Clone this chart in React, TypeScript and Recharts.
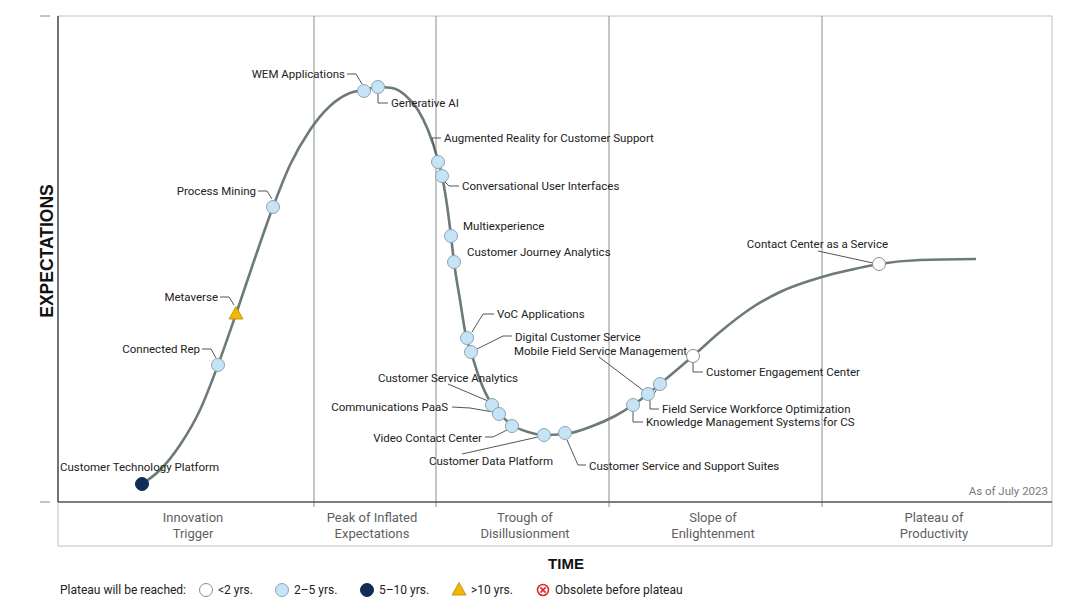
import React from 'react';
import {
  ComposedChart,
  Line,
  Scatter,
  XAxis,
  YAxis,
  ReferenceLine,
} from 'recharts';

// ---------- DATA ----------
// Hype curve (time vs expectations, arbitrary units)
const curveTime = [84, 102, 122, 142, 160, 178, 197, 215, 232, 252, 272, 292, 306, 320, 334, 347, 360, 370, 380, 384, 389, 393, 396, 402, 408, 413, 422, 433, 441, 454, 470, 486, 507, 532, 557, 575, 590, 602, 635, 662, 692, 722, 764, 792, 821, 862, 918];
const curveExpectation = [18, 32, 57, 92, 137, 188, 244, 295, 337, 372, 396, 409, 412, 415, 414, 407, 392, 372, 342, 326, 297, 266, 240, 202, 166, 150, 122, 99, 89, 77, 70, 67, 68, 75, 86, 97, 108, 118, 146, 170, 193, 210, 225, 232, 238, 242, 243];

const techNames = [
  'Customer Technology Platform',
  'Connected Rep',
  'Metaverse',
  'Process Mining',
  'WEM Applications',
  'Generative AI',
  'Augmented Reality for Customer Support',
  'Conversational User Interfaces',
  'Multiexperience',
  'Customer Journey Analytics',
  'VoC Applications',
  'Digital Customer Service',
  'Customer Service Analytics',
  'Communications PaaS',
  'Video Contact Center',
  'Customer Data Platform',
  'Customer Service and Support Suites',
  'Knowledge Management Systems for CS',
  'Mobile Field Service Management',
  'Field Service Workforce Optimization',
  'Customer Engagement Center',
  'Contact Center as a Service',
];
const techTime = [84, 160, 178, 215, 306, 320, 380, 384, 393, 396, 409, 413, 434, 441, 454, 486, 507, 575, 590, 602, 635, 821];
const techExpectation = [18, 137, 188, 295, 411, 415, 340, 326, 266, 240, 164, 150, 97, 88, 76, 67, 69, 97, 108, 118, 146, 238];
const techHorizon = ['5-10', '2-5', '>10', '2-5', '2-5', '2-5', '2-5', '2-5', '2-5', '2-5', '2-5', '2-5', '2-5', '2-5', '2-5', '2-5', '2-5', '2-5', '2-5', '2-5', '<2', '<2'];

const phaseNames = ['Innovation\nTrigger', 'Peak of Inflated\nExpectations', 'Trough of\nDisillusionment', 'Slope of\nEnlightenment', 'Plateau of\nProductivity'];
const phaseBounds = [0, 256, 378, 551, 764, 994];
const phaseLabelTime = [135, 314, 467, 655, 876];

const legendLabels = ['<2 yrs.', '2\u20135 yrs.', '5\u201310 yrs.', '>10 yrs.', 'Obsolete before plateau'];
const legendKeys = ['<2', '2-5', '5-10', '>10', 'obsolete'];

// ---------- LAYOUT (label placement relative to each marker, in px) ----------
type LabelLayout = { dx: number; dy: number; anchor: 'start' | 'middle' | 'end'; leader: number[][] };
const labelLayout: Record<string, LabelLayout> = {
  'Customer Technology Platform': { dx: -82, dy: -17, anchor: 'start', leader: [] },
  'Connected Rep': { dx: -18, dy: -16, anchor: 'end', leader: [[-16, -16], [-7, -16], [-2, -7]] },
  'Metaverse': { dx: -18, dy: -17, anchor: 'end', leader: [[-16, -17], [-7, -17], [-2, -9]] },
  'Process Mining': { dx: -17, dy: -16, anchor: 'end', leader: [[-15, -16], [-6, -16], [-1, -8]] },
  'WEM Applications': { dx: -19, dy: -17, anchor: 'end', leader: [[-17, -17], [-8, -17], [-2, -7]] },
  'Generative AI': { dx: 13, dy: 16, anchor: 'start', leader: [[0, 7], [0, 16], [10, 16]] },
  'Augmented Reality for Customer Support': { dx: 6, dy: -24, anchor: 'start', leader: [[3, -24], [-6, -24], [-2, -7]] },
  'Conversational User Interfaces': { dx: 20, dy: 10, anchor: 'start', leader: [[2, 5], [7, 10], [17, 10]] },
  'Multiexperience': { dx: 12, dy: -10, anchor: 'start', leader: [] },
  'Customer Journey Analytics': { dx: 13, dy: -10, anchor: 'start', leader: [] },
  'VoC Applications': { dx: 30, dy: -24, anchor: 'start', leader: [[5, -6], [16, -24], [27, -24]] },
  'Digital Customer Service': { dx: 44, dy: -15, anchor: 'start', leader: [[6, -3], [32, -16], [41, -16]] },
  'Customer Service Analytics': { dx: -44, dy: -27, anchor: 'middle', leader: [[-44, -21], [-4, -4]] },
  'Communications PaaS': { dx: -51, dy: -7, anchor: 'end', leader: [[-47, -7], [-29, -6], [-6, -2]] },
  'Video Contact Center': { dx: -30, dy: 12, anchor: 'end', leader: [[-27, 11], [-19, 11], [-5, 4]] },
  'Customer Data Platform': { dx: -53, dy: 26, anchor: 'middle', leader: [[-82, 19], [-6, 2]] },
  'Customer Service and Support Suites': { dx: 24, dy: 33, anchor: 'start', leader: [[2, 7], [13, 32], [21, 32]] },
  'Knowledge Management Systems for CS': { dx: 13, dy: 17, anchor: 'start', leader: [[0, 6], [0, 17], [10, 17]] },
  'Mobile Field Service Management': { dx: -134, dy: -43, anchor: 'start', leader: [[-49, -37], [-4, -3]] },
  'Field Service Workforce Optimization': { dx: 2, dy: 25, anchor: 'start', leader: [[-3, 5], [-10, 16], [-10, 25], [-1, 25]] },
  'Customer Engagement Center': { dx: 13, dy: 16, anchor: 'start', leader: [[0, 6], [0, 16], [10, 16]] },
  'Contact Center as a Service': { dx: 9, dy: -20, anchor: 'end', leader: [[-61, -13], [-6, -1]] },
};

const curveData = curveTime.map((x, i) => ({ x, y: curveExpectation[i] }));
const techData = techNames.map((name, i) => ({ name, x: techTime[i], y: techExpectation[i], horizon: techHorizon[i] }));

const FONT = 'Roboto, "Noto Sans", sans-serif';

const Marker = ({ kind, cx, cy }: { kind: string; cx: number; cy: number }) => {
  if (kind === '>10') {
    return <polygon points={`${cx},${cy - 7.5} ${cx - 7},${cy + 5} ${cx + 7},${cy + 5}`} fill="#f2b705" stroke="#b98a00" strokeWidth={0.8} />;
  }
  if (kind === 'obsolete') {
    return (
      <g>
        <circle cx={cx} cy={cy} r={5.5} fill="#fff" stroke="#d9292b" strokeWidth={1.6} />
        <path d={`M${cx - 2.6},${cy - 2.6}L${cx + 2.6},${cy + 2.6}M${cx + 2.6},${cy - 2.6}L${cx - 2.6},${cy + 2.6}`} stroke="#d9292b" strokeWidth={1.6} />
      </g>
    );
  }
  const fill = kind === '<2' ? '#ffffff' : kind === '5-10' ? '#102b56' : '#c6e4f5';
  const stroke = kind === '<2' ? '#8c8c8c' : kind === '5-10' ? '#102b56' : '#8aa6b7';
  return <circle cx={cx} cy={cy} r={6.5} fill={fill} stroke={stroke} strokeWidth={1} />;
};

const MarkerShape = (props: any) => {
  const { cx, cy, payload } = props;
  if (cx == null || cy == null) return null;
  return <Marker kind={payload.horizon} cx={cx} cy={cy} />;
};

const LabelShape = (props: any) => {
  const { cx, cy, payload } = props;
  if (cx == null || cy == null) return null;
  const l = labelLayout[payload.name];
  if (!l) return null;
  const pts = l.leader.map(([dx, dy]) => `${cx + dx},${cy + dy}`).join(' ');
  return (
    <g>
      {l.leader.length > 0 && <polyline points={pts} fill="none" stroke="#555" strokeWidth={1} />}
      <text x={cx + l.dx} y={cy + l.dy} textAnchor={l.anchor} dominantBaseline="central" fontFamily={FONT} fontSize={11.5} fill="#222">
        {payload.name}
      </text>
    </g>
  );
};

const PhaseTick = (props: any) => {
  const { x, y, payload } = props;
  const idx = phaseLabelTime.indexOf(payload.value);
  if (idx < 0) return null;
  const lines = phaseNames[idx].split('\n');
  return (
    <text x={x} y={y + 15} textAnchor="middle" fontFamily={FONT} fontSize={13} fill="#5f5f5f">
      {lines.map((ln, i) => (
        <tspan key={i} x={x} dy={i === 0 ? 0 : 16} dominantBaseline="central">
          {ln}
        </tspan>
      ))}
    </text>
  );
};

const YTick = (props: any) => {
  const { y } = props;
  return <line x1={40} x2={50} y1={y} y2={y} stroke="#888" strokeWidth={1} />;
};

const legendX = [206, 282, 367, 459, 543];

export default function App() {
  return (
    <div style={{ position: 'absolute', left: 0, top: 0, width: 1083, height: 610, background: '#fff' }}>
      <ComposedChart width={1083} height={610} margin={{ top: 16, right: 31, left: 0, bottom: 64 }}>
        <XAxis
          type="number"
          dataKey="x"
          domain={[0, 994]}
          ticks={phaseLabelTime}
          interval={0}
          tick={<PhaseTick />}
          tickLine={false}
          tickSize={0}
          tickMargin={0}
          axisLine={{ stroke: '#555', strokeWidth: 1.5 }}
          height={44}
          allowDataOverflow
        />
        <YAxis
          type="number"
          dataKey="y"
          domain={[0, 486]}
          ticks={[0, 486]}
          tick={<YTick />}
          tickLine={false}
          axisLine={{ stroke: '#444', strokeWidth: 1.5 }}
          width={58}
          allowDataOverflow
        />
        {/* frame */}
        <ReferenceLine y={486} stroke="#d4d4d4" strokeWidth={1.5} ifOverflow="visible" />
        <ReferenceLine segment={[{ x: 994, y: 486 }, { x: 994, y: -44 }]} stroke="#d4d4d4" strokeWidth={1.5} ifOverflow="visible" />
        <ReferenceLine segment={[{ x: 0, y: -44 }, { x: 994, y: -44 }]} stroke="#d4d4d4" strokeWidth={1.5} ifOverflow="visible" />
        <ReferenceLine segment={[{ x: 0, y: 0 }, { x: 0, y: -44 }]} stroke="#d4d4d4" strokeWidth={1.5} ifOverflow="visible" />
        {phaseBounds.slice(1, -1).map((b) => (
          <ReferenceLine key={b} segment={[{ x: b, y: 486 }, { x: b, y: -5 }]} stroke="#a0a0a0" strokeWidth={1.2} ifOverflow="visible" />
        ))}
        <Line data={curveData} dataKey="y" type="monotone" stroke="#6c7a78" strokeWidth={2.6} dot={false} activeDot={false} isAnimationActive={false} />
        <Scatter data={techData} dataKey="y" shape={<LabelShape />} isAnimationActive={false} />
        <Scatter data={techData} dataKey="y" shape={<MarkerShape />} isAnimationActive={false} />
      </ComposedChart>
      <svg width={1083} height={610} style={{ position: 'absolute', left: 0, top: 0, pointerEvents: 'none' }}>
        <text x={47} y={251} transform="rotate(-90 47 251)" textAnchor="middle" dominantBaseline="central" fontFamily='"Liberation Sans", Arial, sans-serif' fontWeight="bold" fontSize={17.5} fill="#111">
          EXPECTATIONS
        </text>
        <text x={566} y={563} textAnchor="middle" dominantBaseline="central" fontFamily='"Liberation Sans", Arial, sans-serif' fontWeight="bold" fontSize={15} fill="#111">
          TIME
        </text>
        <text x={1048} y={491} textAnchor="end" dominantBaseline="central" fontFamily={FONT} fontSize={11.5} fill="#7a7a7a">
          As of July 2023
        </text>
        <text x={60} y={590} dominantBaseline="central" fontFamily={FONT} fontSize={12} fill="#222">
          Plateau will be reached:
        </text>
        {legendKeys.map((k, i) => (
          <g key={k}>
            <Marker kind={k} cx={legendX[i]} cy={590} />
            <text x={legendX[i] + 12} y={590} dominantBaseline="central" fontFamily={FONT} fontSize={12} fill="#222">
              {legendLabels[i]}
            </text>
          </g>
        ))}
      </svg>
    </div>
  );
}
